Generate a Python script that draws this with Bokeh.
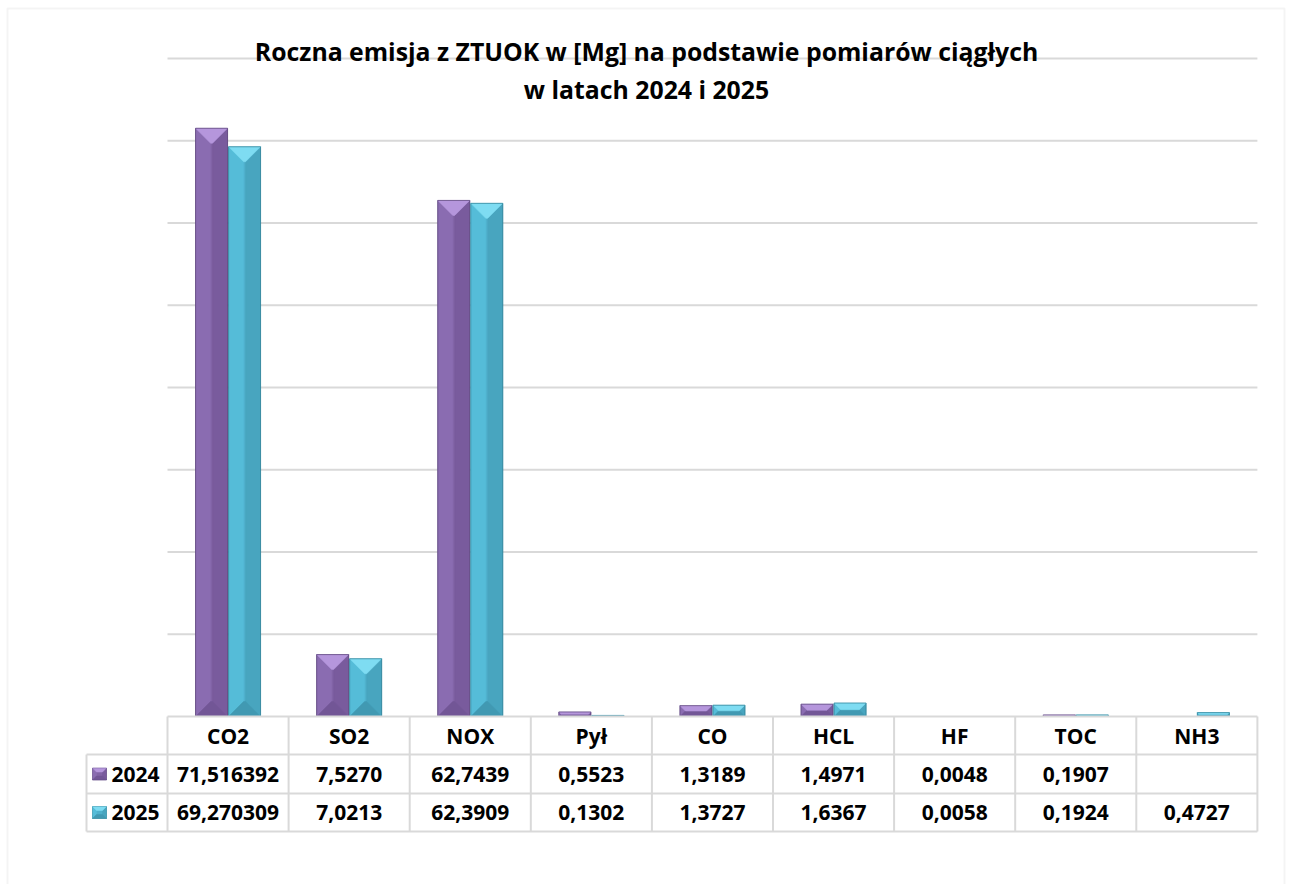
from bokeh.plotting import figure
from bokeh.models import Range1d, BoxAnnotation
from bokeh.core.properties import value
from bokeh.embed import file_html
from bokeh.resources import INLINE

# ---------------- data ----------------
title_lines = ["Roczna emisja z ZTUOK w [Mg] na podstawie pomiarów ciągłych",
               "w latach 2024 i 2025"]
categories = ["CO2", "SO2", "NOX", "Pył", "CO", "HCL", "HF", "TOC", "NH3"]
series_names = ["2024", "2025"]
values_2024 = [71.516392, 7.5270, 62.7439, 0.5523, 1.3189, 1.4971, 0.0048, 0.1907, None]
values_2025 = [69.270309, 7.0213, 62.3909, 0.1302, 1.3727, 1.6367, 0.0058, 0.1924, 0.4727]
decimals = [6, 4, 4, 4, 4, 4, 4, 4, 4]
grid_values = [10, 20, 30, 40, 50, 60, 70, 80]

# ---------------- layout / style ----------------
W, H = 1288, 884
PX_X = 121.1      # pixels per category
PX_Y = 8.225      # pixels per Mg
X0_PX = 167       # canvas x of category axis start
Y0_PX = 716       # canvas y (from top) of value 0

def dx(px):
    return px / PX_X

def dy(px):
    return px / PX_Y

def xd(px):
    return (px - X0_PX) / PX_X

def yd(py):
    return (Y0_PX - py) / PX_Y

FONT = "Open Sans"
GRID_COLOR = "#d9d9d9"
TEXT_COLOR = "#000000"
styles = {
    "2024": dict(face="#8264a6", top="#b596dc", left="#8a6cb1", right="#795b9d", bottom="#725696", edge="#5a4478"),
    "2025": dict(face="#4fb1cc", top="#7edcf2", left="#55bcd8", right="#48a5bf", bottom="#4199b2", edge="#2f7d93"),
}

p = figure(width=W, height=H, output_backend="svg", toolbar_location=None,
           x_range=Range1d(xd(0), xd(W)),
           y_range=Range1d(yd(H), yd(0)),
           x_axis_location=None, y_axis_location=None,
           min_border=0, outline_line_color=None)
p.xgrid.visible = False
p.ygrid.visible = False
p.background_fill_color = "white"
p.border_fill_color = "white"

# outer chart frame (bottom edge lies below the visible page)
p.add_layout(BoxAnnotation(left=xd(7), right=xd(1284), top=yd(8), bottom=yd(H + 200),
                           fill_color=None, line_color=GRID_COLOR, line_width=2))

n = len(categories)
# horizontal gridlines
p.segment(x0=[0] * len(grid_values), x1=[n] * len(grid_values),
          y0=grid_values, y1=grid_values, line_color=GRID_COLOR, line_width=2)

# ---------------- bevelled bars ----------------
BAR_W = dx(32)
offsets = {"2024": -dx(16.5), "2025": dx(16.5)}

def bevel(x0, x1, y0, y1, max_b):
    w_px = (x1 - x0) * PX_X
    h_px = (y1 - y0) * PX_Y
    b = min(max_b, w_px / 2, h_px / 2)
    bx, by = dx(b), dy(b)
    top = ([x0, x1, x1 - bx, x0 + bx], [y1, y1, y1 - by, y1 - by])
    bottom = ([x0, x1, x1 - bx, x0 + bx], [y0, y0, y0 + by, y0 + by])
    left = ([x0, x0 + bx, x0 + bx, x0], [y1, y1 - by, y0 + by, y0])
    right = ([x1, x1 - bx, x1 - bx, x1], [y1, y1 - by, y0 + by, y0])
    return dict(top=top, bottom=bottom, left=left, right=right)

def draw_bevel_boxes(boxes, st, max_b, edge_w):
    if not boxes:
        return
    L = [b[0] for b in boxes]
    R = [b[1] for b in boxes]
    B = [b[2] for b in boxes]
    T = [b[3] for b in boxes]
    p.quad(left=L, right=R, bottom=B, top=T, fill_color=st["face"], line_color=None)
    parts = {k: ([], []) for k in ("left", "right", "bottom", "top")}
    for (x0, x1, y0, y1) in boxes:
        polys = bevel(x0, x1, y0, y1, max_b)
        for k in parts:
            parts[k][0].append(polys[k][0])
            parts[k][1].append(polys[k][1])
    for k in ("left", "right", "bottom", "top"):
        p.patches(parts[k][0], parts[k][1], fill_color=st[k], line_color=st[k], line_width=0.5)
    p.quad(left=L, right=R, bottom=B, top=T,
           fill_color=None, line_color=st["edge"], line_width=edge_w, line_alpha=0.7)

for name, vals in zip(series_names, [values_2024, values_2025]):
    boxes = []
    for i, v in enumerate(vals):
        if v is None or v * PX_Y < 0.5:
            continue
        xc = i + 0.5 + offsets[name]
        boxes.append((xc - BAR_W / 2, xc + BAR_W / 2, 0, v))
    draw_bevel_boxes(boxes, styles[name], 15, 1)

# ---------------- data table ----------------
r1, r2, r3 = yd(754), yd(793), yd(831)
left_edge = xd(86)
# horizontal lines
p.segment(x0=[0, left_edge, left_edge, left_edge], x1=[n, n, n, n],
          y0=[0, r1, r2, r3], y1=[0, r1, r2, r3], line_color=GRID_COLOR, line_width=2)
# vertical lines
vx = list(range(n + 1))
p.segment(x0=vx, x1=vx, y0=[0] * len(vx), y1=[r3] * len(vx), line_color=GRID_COLOR, line_width=2)
p.segment(x0=[left_edge], x1=[left_edge], y0=[r1], y1=[r3], line_color=GRID_COLOR, line_width=2)

centers = [i + 0.5 for i in range(n)]
TABLE_FS = "21px"
p.text(x=centers, y=[(0 + r1) / 2] * n, text=categories, text_align="center",
       text_baseline="middle", text_font=value(FONT), text_font_style="bold",
       text_font_size=TABLE_FS, text_color=TEXT_COLOR)

row_centers = [(r1 + r2) / 2, (r2 + r3) / 2]
for name, vals, yc in zip(series_names, [values_2024, values_2025], row_centers):
    labels = ["" if v is None else f"{v:.{d}f}".replace(".", ",") for v, d in zip(vals, decimals)]
    p.text(x=centers, y=[yc] * n, text=labels, text_align="center",
           text_baseline="middle", text_font=value(FONT), text_font_style="bold",
           text_font_size=TABLE_FS, text_color=TEXT_COLOR)
    # legend key
    kx0, kx1 = xd(92), xd(106)
    draw_bevel_boxes([(kx0, kx1, yc - dy(6), yc + dy(6))], styles[name], 4, 0.5)
    p.text(x=[xd(111)], y=[yc], text=[name], text_align="left",
           text_baseline="middle", text_font=value(FONT), text_font_style="bold",
           text_font_size=TABLE_FS, text_color=TEXT_COLOR)

# ---------------- title ----------------
p.text(x=[xd(646)] * 2, y=[yd(50), yd(88.5)], text=title_lines, text_align="center",
       text_baseline="middle", text_font=value(FONT), text_font_style="bold",
       text_font_size="24.8px", text_color=TEXT_COLOR)

open("out.html", "w").write(file_html(p, INLINE))
